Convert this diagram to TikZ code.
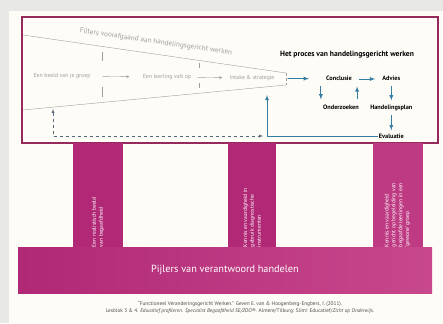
\documentclass[tikz,border=0pt]{standalone}
\usepackage{fontspec}
\setmainfont{PT Sans}
\usetikzlibrary{arrows}
\usetikzlibrary{positioning}
\definecolor{pijlermagenta}{RGB}{176,40,118}
\definecolor{pijlerroze}{RGB}{200,72,140}
\definecolor{kadermagenta}{RGB}{150,42,92}
\definecolor{procesblauw}{RGB}{52,124,162}
\definecolor{filtergrijs}{RGB}{160,158,152}
\definecolor{stippelgrijs}{RGB}{88,104,122}
\definecolor{fotogrijs}{RGB}{232,232,230}
\definecolor{papier}{RGB}{253,252,247}

\begin{document}
\begin{tikzpicture}[-latex, x=1pt, y=-1pt, semithick,
    proces/.style={font=\bfseries\fontsize{6.3}{7}\selectfont, inner sep=1pt,
    text height=4.8pt, text depth=1.4pt},
    filter/.style={text=filtergrijs, font=\fontsize{5.8}{6.5}\selectfont, inner sep=1pt},
    filterpijl/.style={filtergrijs, thin, -stealth},
    stroom/.style={procesblauw, thick},
    pijler/.style={fill=pijlermagenta, minimum width=50pt, minimum height=105pt, inner sep=0pt},
    pijlertekst/.style={rotate=90, anchor=west, align=left, text=white,
    font=\fontsize{5.6}{6.8}\selectfont, inner sep=1pt}]

    \useasboundingbox (0,0) rectangle (443,323);
    \fill[fotogrijs] (0,0) rectangle (443,323);
    \fill[papier] (9,11) rectangle (443,323);

    % kader
    \draw[-, kadermagenta, line width=1.2pt] (22,17) rectangle (438,143);

    % filters
    \draw[-, filtergrijs, thin] (23,35) -- (286,73);
    \draw[-, filtergrijs, thin] (23,110) -- (286,85);
    \draw[-, filtergrijs, thin, densely dashed] (286,73) -- (286,85);
    \draw[-, filtergrijs, thin] (102,52) -- (102,61) (102,87) -- (102,97);
    \draw[-, filtergrijs, thin] (199,63) -- (199,68) (199,83) -- (199,88);

    \node[filter, rotate=-8.2, font=\fontsize{7.2}{8}\selectfont] (filters) at (156,42)
        {Filters voorafgaand aan handelingsgericht werken};
    \node[filter] (groep) at (62,76) {Een beeld van je groep};
    \node[filter] (leerling) at (167,77) {Een leerling valt op};
    \node[filter] (intake) at (252,78) {Intake \& strategie};

    \path (groep) edge [filterpijl, shorten <=11pt, shorten >=12pt] (leerling);
    \path (leerling) edge [filterpijl, shorten <=5pt, shorten >=6pt] (intake);

    % proces
    \node[proces, font=\bfseries\fontsize{7.6}{8}\selectfont] (titel) at (347,55)
        {Het proces van handelingsgericht werken};
    \node[proces] (conclusie) at (339,79) {Conclusie};
    \node[proces] (advies) [right=28pt of conclusie] {Advies};
    \node[proces] (onderzoeken) [below=20pt of conclusie, xshift=2pt] {Onderzoeken};
    \node[proces] (handelingsplan) [below=20pt of advies] {Handelingsplan};
    \node[proces] (evaluatie) [below=20pt of handelingsplan] {Evaluatie};

    \path (intake) edge [stroom, shorten <=12pt, shorten >=16pt] (conclusie);
    \path (conclusie) edge [stroom, shorten <=6pt, shorten >=6pt] (advies);
    \draw[stroom, transform canvas={xshift=-4pt}, shorten <=3pt, shorten >=4pt]
        (conclusie.south west) -- (conclusie.south west |- onderzoeken.north);
    \draw[stroom, transform canvas={xshift=-3pt}, shorten <=4pt, shorten >=3pt]
        (onderzoeken.north east) -- (onderzoeken.north east |- conclusie.south);
    \path (advies) edge [stroom, shorten <=3pt, shorten >=3pt] (handelingsplan);
    \path (handelingsplan) edge [stroom, shorten <=3pt, shorten >=2pt] (evaluatie);

    % terugkoppeling
    \coordinate (terug) at (267,95);
    \coordinate (filterterug) at (53,109);
    \coordinate (stippeleind) at (263,136);
    \draw[stroom] (evaluatie.west) -| (terug);
    \draw[stippelgrijs, thin, dashed, latex-latex] (filterterug) |- (stippeleind);

    % pijlers
    \node[pijler] (pijler1) at (98,195.5) {};
    \node[pijler, minimum width=48pt] (pijler2) at (252,195.5) {};
    \node[pijler, fill=pijlerroze!60!pijlermagenta] (pijler3) at (397.5,195.5) {};
    \node[left color=pijlermagenta, right color=pijlerroze, minimum width=414pt,
        minimum height=46pt, text=white, font=\fontsize{10.3}{12}\selectfont]
        (pijlers) at (225,270) {Pijlers van verantwoord handelen};

    \node[pijlertekst] (tekst1) at (pijler1.south) {Een realistisch beeld\\van begaafdheid};
    \node[pijlertekst] (tekst2) at (pijler2.south)
        {Kennis en vaardigheid in\\gebruik diagnostische\\instrumenten};
    \node[pijlertekst] (tekst3) at (pijler3.south)
        {Kennis en vaardigheid\\gericht op begeleiding van\\begaafde leerlingen in een\\‘gewone’ groep};

    % bron
    \node[text=black!70, align=center, font=\fontsize{5.3}{7}\selectfont] (bron) at (240,307.5)
        {“Functioneel Veranderingsgericht Werken.” Geven E. van \& Hoogenberg-Engbers, I. (2011).\\
        Lesblok 3 \& 4. \textit{Educatief profileren. Specialist Begaafdheid SE/ZOO®}. Almere/Tilburg: Slim! Educatief/\textit{Zicht op Onderwijs}.};
\end{tikzpicture}
\end{document}
